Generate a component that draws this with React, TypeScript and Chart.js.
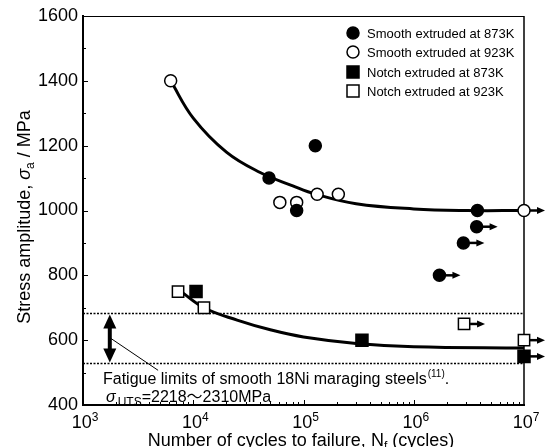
import React, { useEffect, useRef } from 'react';
import { Chart, registerables } from 'chart.js';
Chart.register(...registerables);

const FONT = 'Arial, "Liberation Sans", Helvetica, "Noto Sans CJK JP", sans-serif';

// ---- data (cycles to failure, stress amplitude MPa, run-out flag) ----
const smooth873N = [4.87e4, 1.28e5, 8.67e4, 3.78e6, 3.72e6, 2.82e6, 1.71e6];
const smooth873S = [1100, 1200, 1000, 1000, 950, 900, 800];
const smooth873Runout = [false, false, false, false, true, true, true];

const smooth923N = [6.24e3, 6.1e4, 8.67e4, 1.33e5, 2.07e5, 1e7];
const smooth923S = [1400, 1025, 1025, 1050, 1050, 1000];
const smooth923Runout = [false, false, false, false, false, true];

const notch873N = [1.06e4, 3.39e5, 1e7];
const notch873S = [750, 600, 550];
const notch873Runout = [false, false, true];

const notch923N = [7.28e3, 1.25e4, 2.86e6, 1e7];
const notch923S = [750, 700, 650, 600];
const notch923Runout = [false, false, true, true];

// fitted S-N curves
const smoothCurveN = [6.24e3, 1e4, 2e4, 4e4, 8e4, 1.3e5, 3e5, 1e6, 3e6, 1e7];
const smoothCurveS = [1400, 1285, 1180, 1118, 1076, 1050, 1021, 1005, 1000, 1000];
const notchCurveN = [7.6e3, 1.25e4, 2.5e4, 5e4, 1e5, 3e5, 1e6, 1e7];
const notchCurveS = [752, 700, 662, 632, 610, 590, 580, 576];

// fatigue-limit band of smooth 18Ni maraging steels
const fatigueLimitUpper = 682;
const fatigueLimitLower = 528;
const bandArrowN = 1.75e3;
const leaderFrom = [1.78e3, 606];
const leaderTo = [4.8e3, 507];

const xMin = 1e3;
const xMax = 1e7;
const yMin = 400;
const yMax = 1600;
const xDecades = [3, 4, 5, 6, 7];

const legendLabels = [
  'Smooth extruded at 873K',
  'Smooth extruded at 923K',
  'Notch extruded at 873K',
  'Notch extruded at 923K',
];

const pts = (n: number[], s: number[]) => n.map((v, i) => ({ x: v, y: s[i] }));

function drawMarker(ctx: CanvasRenderingContext2D, style: string, filled: boolean, x: number, y: number) {
  ctx.save();
  ctx.lineWidth = 1.5;
  ctx.strokeStyle = '#000';
  ctx.fillStyle = filled ? '#000' : '#fff';
  ctx.beginPath();
  if (style === 'circle') ctx.arc(x, y, 6, 0, Math.PI * 2);
  else ctx.rect(x - 6, y - 6, 12, 12);
  ctx.fill();
  ctx.stroke();
  ctx.restore();
}

const overlay = {
  id: 'overlay',
  beforeDatasetsDraw(chart: any) {
    const { ctx, chartArea: a, scales } = chart;
    const xs = scales.x;
    const ys = scales.y;
    ctx.save();
    ctx.strokeStyle = '#000';
    ctx.lineWidth = 1;
    ctx.beginPath();
    ctx.moveTo(a.left, a.top + 0.5);
    ctx.lineTo(a.right, a.top + 0.5);
    ctx.stroke();
    ctx.lineWidth = 1.5;
    ctx.beginPath();
    ctx.moveTo(a.right, a.top);
    ctx.lineTo(a.right, a.bottom);
    ctx.stroke();
    ctx.lineWidth = 1;
    for (let v = yMin + 100; v < yMax; v += 100) {
      const py = Math.round(ys.getPixelForValue(v)) + 0.5;
      const len = v % 200 === 0 ? 5 : 3;
      ctx.beginPath();
      ctx.moveTo(a.left, py);
      ctx.lineTo(a.left + len, py);
      ctx.stroke();
    }
    for (let d = 3; d < 7; d++) {
      for (let m = 1; m <= 9; m++) {
        const v = m * Math.pow(10, d);
        if (v <= xMin) continue;
        const px = Math.round(xs.getPixelForValue(v)) + 0.5;
        const len = m === 1 ? 5 : 3;
        ctx.beginPath();
        ctx.moveTo(px, a.bottom);
        ctx.lineTo(px, a.bottom - len);
        ctx.stroke();
      }
    }
    ctx.restore();
  },
  afterDatasetsDraw(chart: any) {
    const { ctx, scales } = chart;
    const xs = scales.x;
    const ys = scales.y;
    ctx.save();
    ctx.fillStyle = '#000';
    ctx.strokeStyle = '#000';

    // run-out arrows
    const runouts = [smooth873Runout, smooth923Runout, notch873Runout, notch923Runout];
    const ns = [smooth873N, smooth923N, notch873N, notch923N];
    const ss = [smooth873S, smooth923S, notch873S, notch923S];
    runouts.forEach((flags, k) => {
      flags.forEach((f, i) => {
        if (!f) return;
        const px = xs.getPixelForValue(ns[k][i]);
        const py = ys.getPixelForValue(ss[k][i]);
        ctx.lineWidth = 2.5;
        ctx.beginPath();
        ctx.moveTo(px + 6, py);
        ctx.lineTo(px + 15, py);
        ctx.stroke();
        ctx.beginPath();
        ctx.moveTo(px + 21, py);
        ctx.lineTo(px + 13, py - 3.5);
        ctx.lineTo(px + 13, py + 3.5);
        ctx.closePath();
        ctx.fill();
      });
    });

    // double arrow for fatigue-limit band
    const bx = xs.getPixelForValue(bandArrowN);
    const bt = ys.getPixelForValue(fatigueLimitUpper);
    const bb = ys.getPixelForValue(fatigueLimitLower);
    ctx.lineWidth = 4;
    ctx.beginPath();
    ctx.moveTo(bx, bt + 12);
    ctx.lineTo(bx, bb - 12);
    ctx.stroke();
    ctx.beginPath();
    ctx.moveTo(bx, bt + 1);
    ctx.lineTo(bx - 6.5, bt + 15);
    ctx.lineTo(bx + 6.5, bt + 15);
    ctx.closePath();
    ctx.fill();
    ctx.beginPath();
    ctx.moveTo(bx, bb - 1);
    ctx.lineTo(bx - 6.5, bb - 15);
    ctx.lineTo(bx + 6.5, bb - 15);
    ctx.closePath();
    ctx.fill();

    // leader line
    ctx.lineWidth = 1;
    ctx.beginPath();
    ctx.moveTo(xs.getPixelForValue(leaderFrom[0]), ys.getPixelForValue(leaderFrom[1]));
    ctx.lineTo(xs.getPixelForValue(leaderTo[0]), ys.getPixelForValue(leaderTo[1]));
    ctx.stroke();

    // annotation text
    ctx.textBaseline = 'alphabetic';
    ctx.textAlign = 'left';
    let tx = 103;
    ctx.font = `16px ${FONT}`;
    const l1 = 'Fatigue limits of smooth 18Ni maraging steels';
    ctx.fillText(l1, tx, 384);
    tx += ctx.measureText(l1).width;
    ctx.font = `10px ${FONT}`;
    ctx.fillText('(11)', tx + 1, 377);
    tx += ctx.measureText('(11)').width + 1;
    ctx.font = `16px ${FONT}`;
    ctx.fillText('.', tx, 384);

    tx = 106;
    ctx.font = `italic 16px ${FONT}`;
    ctx.fillText('σ', tx, 402);
    tx += ctx.measureText('σ').width + 2;
    ctx.font = `12px ${FONT}`;
    ctx.fillText('UTS', tx, 406);
    tx += ctx.measureText('UTS').width;
    ctx.font = `16px ${FONT}`;
    ctx.fillText('=2218～2310MPa', tx, 402);

    // legend
    const styles = ['circle', 'circle', 'rect', 'rect'];
    const fills = [true, false, true, false];
    const rows = [33, 52, 72, 91];
    ctx.font = `13px ${FONT}`;
    ctx.textBaseline = 'middle';
    legendLabels.forEach((lab, i) => {
      drawMarker(ctx, styles[i], fills[i], 353, rows[i]);
      ctx.fillStyle = '#000';
      ctx.fillText(lab, 367, rows[i] + 1);
    });

    // x tick labels with superscripts
    ctx.textBaseline = 'alphabetic';
    xDecades.forEach((d) => {
      const px = xs.getPixelForValue(Math.pow(10, d));
      ctx.font = `18px ${FONT}`;
      const w1 = ctx.measureText('10').width;
      ctx.font = `12px ${FONT}`;
      const w2 = ctx.measureText(String(d)).width;
      const start = px + 2 - (w1 + w2) / 2;
      ctx.font = `18px ${FONT}`;
      ctx.fillText('10', start, 428);
      ctx.font = `12px ${FONT}`;
      ctx.fillText(String(d), start + w1, 421);
    });

    // x title
    {
      const parts: [string, string, number][] = [
        ['Number of cycles to failure, N', `18px ${FONT}`, 0],
        ['f', `12px ${FONT}`, 4],
        [' (cycles)', `18px ${FONT}`, 0],
      ];
      let total = 0;
      parts.forEach(([t, f]) => { ctx.font = f; total += ctx.measureText(t).width; });
      let x0 = 301 - total / 2;
      parts.forEach(([t, f, dy]) => {
        ctx.font = f;
        ctx.fillText(t, x0, 446 + dy);
        x0 += ctx.measureText(t).width;
      });
    }

    // y title (rotated)
    {
      ctx.save();
      ctx.translate(24, 217);
      ctx.rotate(-Math.PI / 2);
      const parts: [string, string, number][] = [
        ['Stress amplitude, ', `18px ${FONT}`, 0],
        ['σ', `italic 18px ${FONT}`, 0],
        ['a', `12px ${FONT}`, 4],
        [' / MPa', `18px ${FONT}`, 0],
      ];
      let total = 0;
      parts.forEach(([t, f]) => { ctx.font = f; total += ctx.measureText(t).width; });
      let x0 = -total / 2;
      parts.forEach(([t, f, dy]) => {
        ctx.font = f;
        ctx.fillText(t, x0, 6 + dy);
        x0 += ctx.measureText(t).width;
      });
      ctx.restore();
    }
    ctx.restore();
  },
};

export default function App() {
  const ref = useRef<HTMLCanvasElement>(null);
  useEffect(() => {
    document.body.style.margin = '0';
    const canvas = ref.current!;
    const scatterBase = { showLine: false, clip: false as any, order: 1 };
    const curveBase = {
      showLine: true,
      pointRadius: 0,
      borderColor: '#000',
      borderWidth: 3,
      tension: 0.4,
      clip: false as any,
      order: 2,
    };
    const chart = new Chart(canvas, {
      type: 'scatter',
      data: {
        datasets: [
          {
            ...scatterBase,
            label: legendLabels[0],
            data: pts(smooth873N, smooth873S),
            pointStyle: 'circle',
            pointRadius: 6,
            backgroundColor: '#000',
            borderColor: '#000',
            borderWidth: 1.5,
          },
          {
            ...scatterBase,
            label: legendLabels[1],
            data: pts(smooth923N, smooth923S),
            pointStyle: 'circle',
            pointRadius: 6,
            backgroundColor: '#fff',
            borderColor: '#000',
            borderWidth: 1.5,
          },
          {
            ...scatterBase,
            label: legendLabels[2],
            data: pts(notch873N, notch873S),
            pointStyle: 'rect',
            pointRadius: 8.5,
            backgroundColor: '#000',
            borderColor: '#000',
            borderWidth: 1.5,
          },
          {
            ...scatterBase,
            label: legendLabels[3],
            data: pts(notch923N, notch923S),
            pointStyle: 'rect',
            pointRadius: 8,
            backgroundColor: '#fff',
            borderColor: '#000',
            borderWidth: 1.5,
          },
          { ...curveBase, label: 'Smooth S-N curve', data: pts(smoothCurveN, smoothCurveS) },
          { ...curveBase, label: 'Notch S-N curve', data: pts(notchCurveN, notchCurveS) },
          {
            label: 'Fatigue limit (upper)',
            data: [{ x: xMin, y: fatigueLimitUpper }, { x: xMax, y: fatigueLimitUpper }],
            showLine: true,
            pointRadius: 0,
            borderColor: '#000',
            borderWidth: 1.5,
            borderDash: [2, 1.5],
            order: 3,
          },
          {
            label: 'Fatigue limit (lower)',
            data: [{ x: xMin, y: fatigueLimitLower }, { x: xMax, y: fatigueLimitLower }],
            showLine: true,
            pointRadius: 0,
            borderColor: '#000',
            borderWidth: 1.5,
            borderDash: [2, 1.5],
            order: 3,
          },
        ] as any,
      },
      options: {
        responsive: false,
        animation: false,
        events: [],
        layout: { padding: { top: 16, right: 21, left: 0, bottom: 0 } },
        plugins: { legend: { display: false }, tooltip: { enabled: false } },
        scales: {
          x: {
            type: 'logarithmic',
            min: xMin,
            max: xMax,
            grid: { display: false, drawTicks: false },
            border: { display: true, color: '#000', width: 2 },
            ticks: { display: false },
            afterFit: (s: any) => { s.height = 42; },
          },
          y: {
            type: 'linear',
            min: yMin,
            max: yMax,
            grid: { display: false, drawTicks: false },
            border: { display: true, color: '#000', width: 2 },
            ticks: {
              stepSize: 200,
              color: '#000',
              padding: 5,
              font: { family: FONT, size: 18 },
              callback: (v: any) => String(v),
            },
            afterFit: (s: any) => { s.width = 83; },
          },
        },
      } as any,
      plugins: [overlay],
    });
    return () => chart.destroy();
  }, []);
  return <canvas ref={ref} width={545} height={447} style={{ display: 'block', width: 545, height: 447 }} />;
}
